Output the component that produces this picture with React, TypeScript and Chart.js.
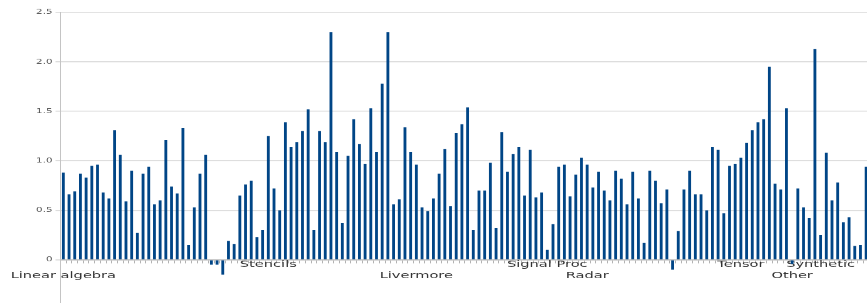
import React, { useEffect, useRef } from 'react';
import { Chart, registerables } from 'chart.js';

Chart.register(...registerables);

// ---- data ----
const groupNames = ['Linear algebra', 'Stencils', 'Livermore', 'Signal Proc', 'Radar', 'Tensor', 'Other', 'Synthetic'];

const linearAlgebra = [
  0.88, 0.66, 0.69, 0.87, 0.83, 0.95, 0.96, 0.68, 0.62, 1.31, 1.06, 0.59, 0.9, 0.27, 0.87, 0.94, 0.56, 0.6,
  1.21, 0.74, 0.67, 1.33, 0.15, 0.53, 0.87, 1.06, -0.05, -0.05, -0.15, 0.19, 0.16, 0.65, 0.76, 0.8, 0.23, 0.3,
];
const stencils = [
  1.25, 0.72, 0.5, 1.39, 1.14, 1.19, 1.3, 1.52, 0.3, 1.3, 1.19, 2.3, 1.09, 0.37, 1.05, 1.42, 1.17, 0.97, 1.53,
  1.09, 1.78, 2.3, 0.56, 0.61, 1.34, 1.09,
];
const livermore = [
  0.96, 0.53, 0.49, 0.62, 0.87, 1.12, 0.54, 1.28, 1.37, 1.54, 0.3, 0.7, 0.7, 0.98, 0.32, 1.29, 0.89, 1.07, 1.14,
  0.65, 1.11, 0.63, 0.68,
];
const signalProc = [0.1, 0.36, 0.94, 0.96, 0.64, 0.86, 1.03];
const radar = [
  0.96, 0.73, 0.89, 0.7, 0.6, 0.9, 0.82, 0.56, 0.89, 0.62, 0.17, 0.9, 0.8, 0.57, 0.71, -0.1, 0.29, 0.71, 0.9,
  0.66, 0.66, 0.5, 1.14, 1.11, 0.47, 0.95, 0.97,
];
const tensor = [1.03, 1.18, 1.31, 1.39, 1.42, 1.95, 0.77, 0.71, 1.53];
const other = [-0.04, 0.72, 0.53, 0.42, 2.13];
const synthetic = [0.25, 1.08, 0.6, 0.78, 0.38, 0.43, 0.14, 0.15, 0.94];

const groupValues = [linearAlgebra, stencils, livermore, signalProc, radar, tensor, other, synthetic];

const yMin = -0.5;
const yMax = 2.5;
const yStep = 0.5;

// flatten into category labels (group name on first item of each group) and values
const categories: string[] = [];
const values: number[] = [];
groupValues.forEach((group, gi) => {
  group.forEach((v, i) => {
    categories.push(i === 0 ? groupNames[gi] : '');
    values.push(v);
  });
});

// the reference picture is stretched horizontally relative to its height
const SQUASH = 0.625;
const CANVAS_W = 869;
const CANVAS_H = 504;

export default function App() {
  const ref = useRef<HTMLCanvasElement | null>(null);

  useEffect(() => {
    if (!ref.current) return;
    const chart = new Chart(ref.current, {
      type: 'bar',
      data: {
        labels: categories,
        datasets: [
          {
            data: values,
            backgroundColor: '#004586',
            borderWidth: 0,
            barPercentage: 0.5,
            categoryPercentage: 1,
          },
        ],
      },
      options: {
        animation: false,
        responsive: false,
        events: [],
        layout: { padding: { top: 19.7, left: 0, right: 0, bottom: 0 } },
        plugins: { legend: { display: false }, tooltip: { enabled: false } },
        scales: {
          x: {
            position: { y: 0 } as any,
            offset: true,
            grid: {
              display: true,
              drawOnChartArea: false,
              drawTicks: true,
              tickLength: 4.8,
              color: '#b3b3b3',
              lineWidth: 1,
              offset: true,
            },
            border: { display: true, color: '#b3b3b3', width: 1.6 },
            ticks: {
              autoSkip: false,
              maxRotation: 0,
              minRotation: 0,
              padding: -5.5,
              color: '#333333',
              font: { family: '"DejaVu Sans", sans-serif', size: 14.6, lineHeight: 1.2 },
              callback: (_v: any, index: number) => {
                const name = categories[index];
                if (!name) return '';
                const order = groupNames.indexOf(name);
                return order % 2 === 0 ? ['', name] : name;
              },
            },
            afterFit: (s: any) => {
              s.height = 20;
            },
          },
          y: {
            min: yMin,
            max: yMax,
            ticks: {
              stepSize: yStep,
              padding: 3,
              color: '#555555',
              font: { family: '"DejaVu Sans", sans-serif', size: 10.3 },
            },
            grid: { color: '#d9d9d9', lineWidth: 1.6, drawTicks: true, tickLength: 5 },
            border: { display: true, color: '#c4c4c4', width: 1 },
            afterFit: (s: any) => {
              s.width = 60.5;
            },
          },
        },
      },
    });
    return () => chart.destroy();
  }, []);

  return (
    <div
      style={{
        position: 'fixed',
        left: 0,
        top: 0,
        width: 867,
        height: 303,
        overflow: 'hidden',
        background: '#ffffff',
      }}
    >
      <div style={{ width: CANVAS_W, height: CANVAS_H, transform: `scaleY(${SQUASH})`, transformOrigin: '0 0' }}>
        <canvas ref={ref} width={CANVAS_W} height={CANVAS_H} style={{ display: 'block' }} />
      </div>
    </div>
  );
}
